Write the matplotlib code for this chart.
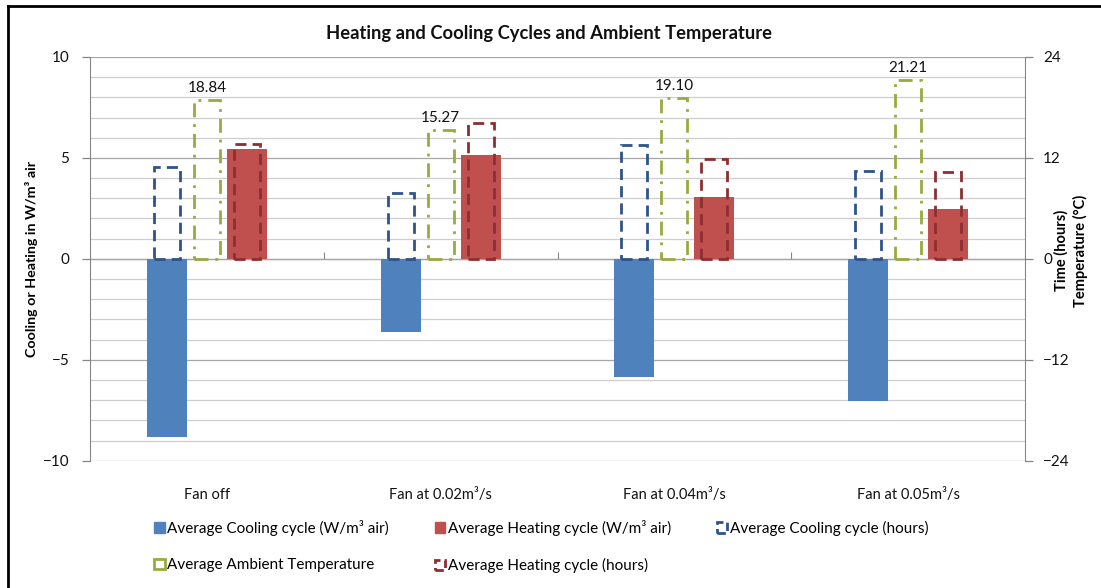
import numpy as np
import matplotlib
matplotlib.use("Agg")
import matplotlib.pyplot as plt
from matplotlib.patches import Patch
from matplotlib.lines import Line2D
from matplotlib.ticker import MultipleLocator

plt.rcParams['font.family'] = ['Lato', 'DejaVu Sans']

categories = ["Fan off", "Fan at 0.02m³/s", "Fan at 0.04m³/s", "Fan at 0.05m³/s"]
cooling_w = [-8.85, -3.6, -5.85, -7.05]       # W/m3 air (left axis)
heating_w = [5.45, 5.15, 3.08, 2.48]          # W/m3 air (left axis)
cooling_h = [10.9, 7.8, 13.55, 10.4]          # hours (right axis)
ambient_t = [18.84, 15.27, 19.10, 21.21]      # degC (right axis)
heating_h = [13.7, 16.1, 11.85, 10.3]         # hours (right axis)

W, H = 1101, 588
fig = plt.figure(figsize=(W / 100, H / 100), dpi=100)
ax = fig.add_axes([90 / W, 1 - 460.7 / H, 935 / W, 403.7 / H])
ax2 = ax.twinx()

x = np.arange(len(categories))
off = 0.171
wp = 0.171
ws = 0.112

c_blue = '#4F81BD'
c_red = '#C0504D'
c_dblue = '#2F5485'
c_green = '#9AA940'
c_dred = '#8C2F33'

ax.bar(x - off, cooling_w, wp, color=c_blue, zorder=2)
ax.bar(x + off, heating_w, wp, color=c_red, zorder=2)

dash = (0, (4, 2.2))
dashdot = (0, (5, 2.5, 1, 2.5))
ax2.bar(x - off, cooling_h, ws, facecolor='none', edgecolor=c_dblue, linewidth=2, linestyle=dash)
bg = ax2.bar(x, ambient_t, ws, facecolor='none', edgecolor=c_green, linewidth=2, linestyle=dashdot)
ax2.bar(x + off, heating_h, ws, facecolor='none', edgecolor=c_dred, linewidth=2, linestyle=dash)
ax2.bar_label(bg, labels=[f"{v:.2f}" for v in ambient_t], padding=4, fontsize=11, color='#111111')

ax.set_xlim(-0.5, 3.5)
ax.set_ylim(-10, 10)
ax2.set_ylim(-24, 24)

ax.yaxis.set_major_locator(MultipleLocator(5))
ax.yaxis.set_minor_locator(MultipleLocator(1))
ax2.yaxis.set_major_locator(MultipleLocator(12))
ax.grid(which='major', axis='y', color='#A6A6A6', linewidth=0.9, zorder=0)
ax.grid(which='minor', axis='y', color='#CFCFCF', linewidth=0.9, zorder=0)
ax.set_axisbelow(True)

for a in (ax, ax2):
    for s in ('top', 'bottom'):
        a.spines[s].set_visible(False)
    a.spines['left'].set_color('#868686')
    a.spines['right'].set_color('#868686')
ax.spines['right'].set_visible(False)
ax2.spines['left'].set_visible(False)

ax.tick_params(axis='y', which='major', direction='out', length=6, width=0.9, color='#868686',
               labelsize=11, pad=9, labelcolor='#111111')
ax.tick_params(axis='y', which='minor', length=0)
ax2.tick_params(axis='y', direction='out', length=6, width=0.9, color='#868686',
                labelsize=11, pad=7, labelcolor='#111111')

ax.set_xticks(x)
ax.set_xticklabels(categories, fontsize=10.5, color='#111111')
ax.tick_params(axis='x', length=0, pad=20)

secax = ax.secondary_xaxis(0.5)
secax.set_xticks([0.5, 1.5, 2.5])
secax.set_xticklabels([])
secax.tick_params(axis='x', direction='out', length=5, color='#868686')
secax.spines['bottom'].set_color('#A6A6A6')

ax.set_ylabel("Cooling or Heating in W/m³ air", fontsize=10.3, fontweight='bold')
ax.yaxis.set_label_coords(-52 / 935, 0.5)
ax2.set_ylabel("Time (hours)\nTemperature (°C)", fontsize=10.5, fontweight='bold',
               rotation=90, linespacing=1.3)
ax2.yaxis.label.set_verticalalignment('center')
ax2.yaxis.set_label_coords(1 + 46 / 935, 0.52)

fig.text(549 / W, 1 - 33 / H, "Heating and Cooling Cycles and Ambient Temperature",
         ha='center', va='center', fontsize=13.2, fontweight='bold', color='#111111')

handles = [
    Patch(facecolor=c_blue, edgecolor=c_blue, label='Average Cooling cycle (W/m³ air)'),
    Patch(facecolor='white', edgecolor=c_green, linewidth=2, label='Average Ambient Temperature'),
    Patch(facecolor=c_red, edgecolor=c_red, label='Average Heating cycle (W/m³ air)'),
    Patch(facecolor='white', edgecolor=c_dred, linewidth=2, linestyle=(0, (3, 1.5)), label='Average Heating cycle (hours)'),
    Patch(facecolor='white', edgecolor=c_dblue, linewidth=2, linestyle=(0, (3, 1.5)), label='Average Cooling cycle (hours)'),
]
fig.legend(handles=handles, ncol=3, loc='upper left', bbox_to_anchor=(151 / W, 1 - 517 / H),
           frameon=False, fontsize=11, handlelength=0.7, handleheight=0.7, handletextpad=0.15,
           columnspacing=3.0, labelspacing=1.45, borderpad=0.2, borderaxespad=0)

# outer frame (left and top edges of the chart area)
fig.add_artist(Line2D([8 / W, 8 / W], [0, 1 - 6 / H], transform=fig.transFigure, color='black', lw=2))
fig.add_artist(Line2D([8 / W, 1], [1 - 6 / H, 1 - 6 / H], transform=fig.transFigure, color='black', lw=2))

fig.savefig("out.png", dpi=100, facecolor='white')
